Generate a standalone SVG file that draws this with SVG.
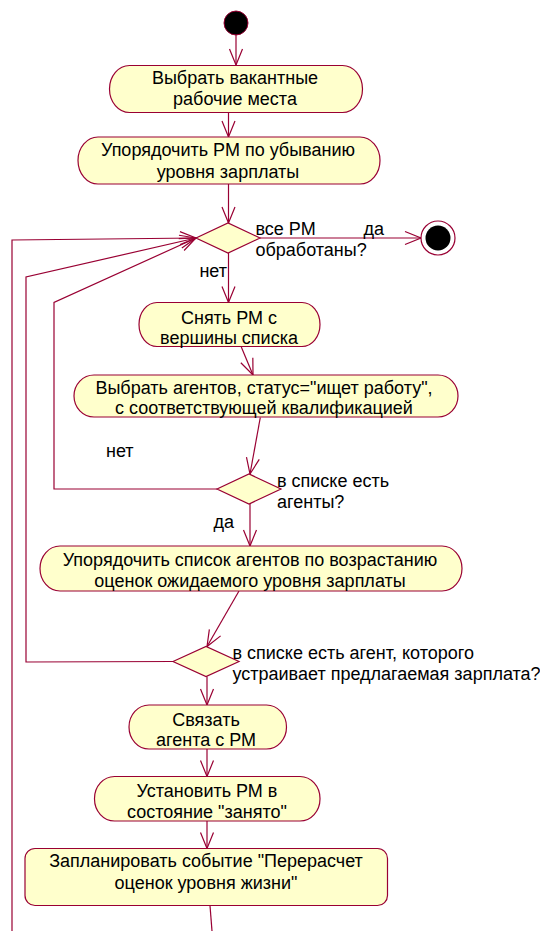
<svg xmlns="http://www.w3.org/2000/svg" width="540" height="931" viewBox="0 0 540 931">
<defs>
<style>
.n{fill:#ffffcc;stroke:#990033;stroke-width:1.2}
.t{font-family:"Liberation Sans",Arial,sans-serif;font-size:18px;fill:#000;text-anchor:middle}
.l{font-family:"Liberation Sans",Arial,sans-serif;font-size:18px;fill:#000}
.e{fill:none;stroke:#990033;stroke-width:1.2}
</style>
<marker id="a" markerUnits="userSpaceOnUse" markerWidth="18" markerHeight="16" viewBox="0 0 18 16" refX="17" refY="8" orient="auto">
<path d="M1,1.5 L17,8 L1,14.5" fill="none" stroke="#990033" stroke-width="1.2"/>
</marker>
</defs>
<rect width="540" height="931" fill="#fff"/>
<g id="edges">
<path class="e" d="M236,35 L236,65" marker-end="url(#a)"/>
<path class="e" d="M228.5,113 L228.5,137" marker-end="url(#a)"/>
<path class="e" d="M228.5,184 L228.5,223" marker-end="url(#a)"/>
<path class="e" d="M260,238 L421,238" marker-end="url(#a)"/>
<path class="e" d="M228.5,253 L228.5,302.5" marker-end="url(#a)"/>
<path class="e" d="M241.3,347 L253,375" marker-end="url(#a)"/>
<path class="e" d="M260.3,417.5 L250,474" marker-end="url(#a)"/>
<path class="e" d="M250,504 L250,546" marker-end="url(#a)"/>
<path class="e" d="M239,591 L207,646.5" marker-end="url(#a)"/>
<path class="e" d="M207,676.5 L207,705" marker-end="url(#a)"/>
<path class="e" d="M207,749 L207,776.5" marker-end="url(#a)"/>
<path class="e" d="M207,821 L207,848.5" marker-end="url(#a)"/>
<path class="e" d="M210,905.5 L212,931"/>
<path class="e" d="M12,931 L12,240 L196,238" marker-end="url(#a)"/>
<path class="e" d="M173,661.5 L26,662 L26,277 L196,238" marker-end="url(#a)"/>
<path class="e" d="M217,489 L54,489 L54,302.5 L196,238" marker-end="url(#a)"/>
</g>
<g id="start"><circle cx="236" cy="23" r="12" fill="#000" stroke="#990033" stroke-width="1"/></g>
<g id="n1"><rect class="n" x="109.5" y="65.5" width="253" height="47" rx="20" ry="23.5"/>
<text class="t" x="235" y="84">Выбрать вакантные</text><text class="t" x="235" y="105">рабочие места</text></g>
<g id="n2"><rect class="n" x="78" y="137" width="302" height="47" rx="20" ry="23.5"/>
<text class="t" x="228" y="156">Упорядочить РМ по убыванию</text><text class="t" x="228" y="177.5">уровня зарплаты</text></g>
<g id="d1"><polygon class="n" points="196,238 228,223 260,238 228,253"/>
<text class="l" x="255.5" y="235">все РМ</text><text class="l" x="255.5" y="255.5">обработаны?</text>
<text class="l" x="363.5" y="235">да</text><text class="l" x="227" y="277" text-anchor="end">нет</text></g>
<g id="end"><circle cx="438" cy="238" r="17" fill="#fff" stroke="#990033" stroke-width="1.2"/><circle cx="438" cy="238" r="12.5" fill="#000"/></g>
<g id="n3"><rect class="n" x="139" y="302.5" width="181" height="44" rx="18" ry="22"/>
<text class="t" x="229" y="323.5">Снять РМ с</text><text class="t" x="229" y="344">вершины списка</text></g>
<g id="n4"><rect class="n" x="74" y="375" width="384" height="42" rx="20" ry="21"/>
<text class="t" x="264" y="393.5">Выбрать агентов, статус="ищет работу",</text><text class="t" x="264" y="414">с соответствующей квалификацией</text></g>
<g id="d2"><polygon class="n" points="217,489 249,474 281,489 249,504"/>
<text class="l" x="277" y="487">в списке есть</text><text class="l" x="277" y="508">агенты?</text>
<text class="l" x="106" y="457">нет</text><text class="l" x="213.5" y="528">да</text></g>
<g id="n5"><rect class="n" x="40" y="546" width="422" height="45" rx="20" ry="22.5"/>
<text class="t" x="250" y="565.5">Упорядочить список агентов по возрастанию</text><text class="t" x="250" y="587">оценок ожидаемого уровня зарплаты</text></g>
<g id="d3"><polygon class="n" points="173,661.5 206,646.5 239,661.5 206,676.5"/>
<text class="l" x="232.5" y="659">в списке есть агент, которого</text><text class="l" x="232.5" y="679.5">устраивает предлагаемая зарплата?</text></g>
<g id="n6"><rect class="n" x="129" y="705" width="157.5" height="44" rx="20" ry="22"/>
<text class="t" x="206" y="726">Связать</text><text class="t" x="206" y="746">агента с РМ</text></g>
<g id="n7"><rect class="n" x="94.5" y="776.5" width="225.5" height="44.5" rx="20" ry="22"/>
<text class="t" x="207" y="797">Установить РМ в</text><text class="t" x="207" y="818">состояние "занято"</text></g>
<g id="n8"><rect class="n" x="25" y="848.5" width="362.5" height="57" rx="10" ry="10"/>
<text class="t" x="206" y="867">Запланировать событие "Перерасчет</text><text class="t" x="206" y="889">оценок уровня жизни"</text></g>
</svg>
